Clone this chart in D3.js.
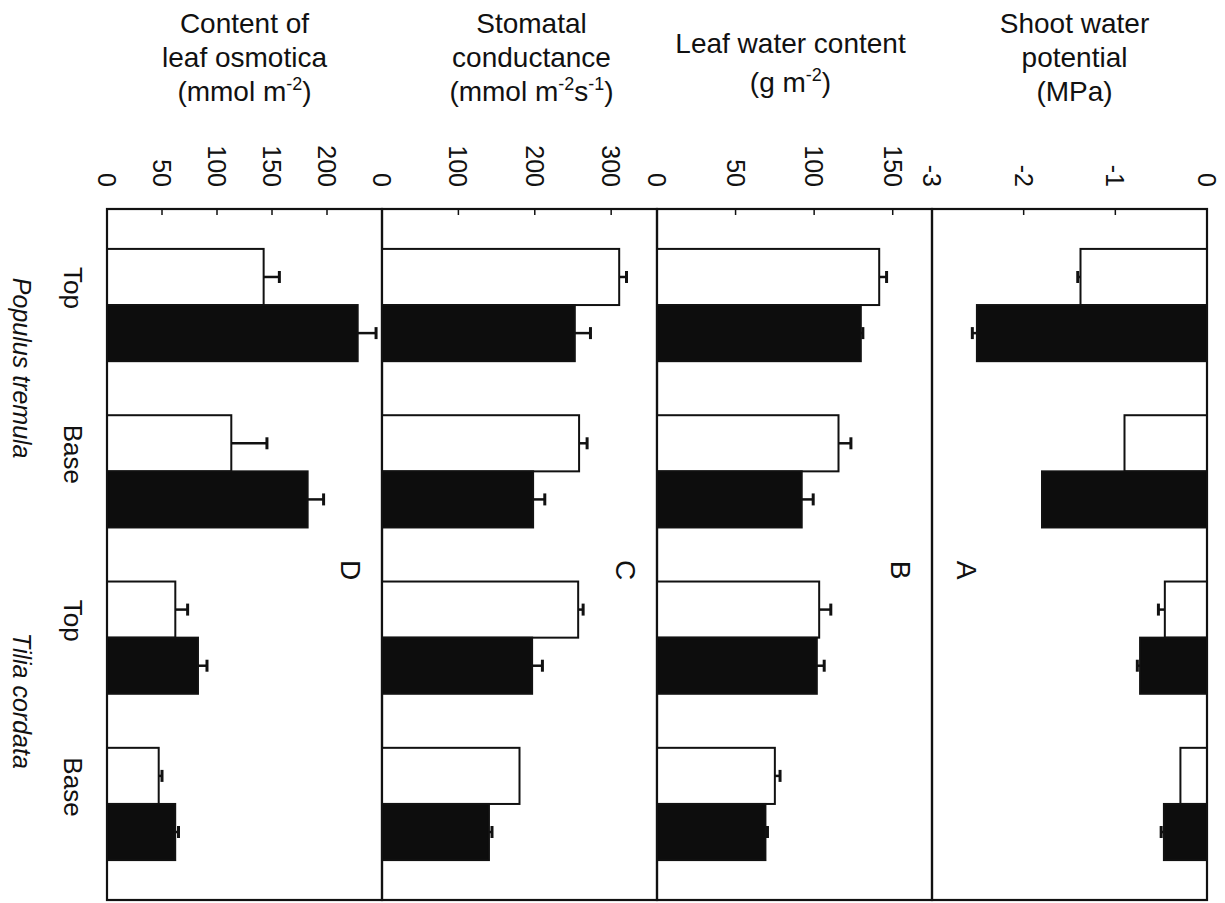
<!DOCTYPE html>
<html>
<head>
<meta charset="utf-8">
<script src="https://cdn.jsdelivr.net/npm/d3@7/dist/d3.min.js"></script>
<style>
  html, body { margin: 0; padding: 0; background: #fff; }
  svg { display: block; }
  text { font-family: "Liberation Sans", Arial, Helvetica, sans-serif; fill: #111; }
</style>
</head>
<body>
<svg id="chart" width="1225" height="903"></svg>
<script>
// Sampling positions along the canopy, two species
const categories = ["Top", "Base", "Top", "Base"];
const categoryKeys = ["pt-top", "pt-base", "tc-top", "tc-base"];
const species = ["Populus tremula", "Tilia cordata"];
const seriesNames = ["open", "filled"];

// A: shoot water potential (MPa)
const waterPotentialOpen = [-1.38, -0.90, -0.46, -0.29];
const waterPotentialOpenErr = [0.03, 0, 0.07, 0];
const waterPotentialFilled = [-2.51, -1.80, -0.73, -0.47];
const waterPotentialFilledErr = [0.05, 0, 0.03, 0.03];
const waterPotentialTicks = [-3, -2, -1, 0];

// B: leaf water content (g m-2)
const leafWaterOpen = [141.4, 115.5, 103.2, 75];
const leafWaterOpenErr = [4.7, 7.9, 7.4, 3.3];
const leafWaterFilled = [129.7, 92.1, 101.7, 69];
const leafWaterFilledErr = [1.3, 7.3, 4.7, 1.3];
const leafWaterTicks = [0, 50, 100, 150];

// C: stomatal conductance (mmol m-2 s-1)
const conductanceOpen = [310.5, 258, 256.8, 180];
const conductanceOpenErr = [9.6, 10.5, 6.5, 0];
const conductanceFilled = [252.4, 197.8, 196.5, 140];
const conductanceFilledErr = [20.5, 15.3, 13.5, 4];
const conductanceTicks = [0, 100, 200, 300];

// D: content of leaf osmotica (mmol m-2)
const osmoticaOpen = [142.4, 113, 62.1, 47];
const osmoticaOpenErr = [14.3, 32.4, 11.2, 3];
const osmoticaFilled = [227.9, 182.4, 82.7, 62];
const osmoticaFilledErr = [16.7, 14.5, 8.2, 3];
const osmoticaTicks = [0, 50, 100, 150, 200];

// Panels, left to right on the page; title parts in arrays are superscripts
const panels = [
  { letter: "D", domain: [0, 250], ticks: osmoticaTicks,
    open: osmoticaOpen, openErr: osmoticaOpenErr, filled: osmoticaFilled, filledErr: osmoticaFilledErr,
    title: [["Content of"], ["leaf osmotica"], ["(mmol m", ["-2"], ")"]] },
  { letter: "C", domain: [0, 360], ticks: conductanceTicks,
    open: conductanceOpen, openErr: conductanceOpenErr, filled: conductanceFilled, filledErr: conductanceFilledErr,
    title: [["Stomatal"], ["conductance"], ["(mmol m", ["-2"], "s", ["-1"], ")"]] },
  { letter: "B", domain: [0, 175], ticks: leafWaterTicks,
    open: leafWaterOpen, openErr: leafWaterOpenErr, filled: leafWaterFilled, filledErr: leafWaterFilledErr,
    title: [["Leaf water content"], ["(g m", ["-2"], ")"]] },
  { letter: "A", domain: [-3, 0], ticks: waterPotentialTicks,
    open: waterPotentialOpen, openErr: waterPotentialOpenErr, filled: waterPotentialFilled, filledErr: waterPotentialFilledErr,
    title: [["Shoot water"], ["potential"], ["(MPa)"]] }
];

const svg = d3.select("#chart");

const frameTop = 209, frameBottom = 900;
const panelLeft = 107, panelWidth = 275;

// Categories run down the page
const y = d3.scaleBand().domain(categoryKeys).range([frameTop, frameBottom])
  .paddingInner(0.325).paddingOuter(0.24);
const ySeries = d3.scaleBand().domain(seriesNames).range([0, y.bandwidth()]);

const titleOffsets = [0, 12, -4, 5];
const titleBaselines3 = [33, 67, 101];
const titleBaselines2 = [53, 92];
const supShift = 11;

panels.forEach((p, i) => {
  const x0 = panelLeft + i * panelWidth;
  const x = d3.scaleLinear().domain(p.domain).range([x0, x0 + panelWidth]);
  const g = svg.append("g");

  const rows = categoryKeys.map((k, j) => ({
    key: k,
    bars: [
      { s: "open", v: p.open[j], e: p.openErr[j] },
      { s: "filled", v: p.filled[j], e: p.filledErr[j] }
    ]
  }));

  const bar = g.selectAll("g.row").data(rows).join("g")
    .attr("class", "row")
    .attr("transform", d => `translate(0,${y(d.key)})`)
    .selectAll("g.bar").data(d => d.bars).join("g").attr("class", "bar");

  // error bars extend outward from the bar end
  bar.filter(d => d.e > 0).each(function (d) {
    const sel = d3.select(this);
    const yc = ySeries(d.s) + ySeries.bandwidth() / 2;
    const tip = d.v < 0 ? d.v - d.e : d.v + d.e;
    sel.append("line")
      .attr("x1", x(d.v)).attr("x2", x(tip)).attr("y1", yc).attr("y2", yc)
      .attr("stroke", "#111").attr("stroke-width", 2.5);
    sel.append("line")
      .attr("x1", x(tip)).attr("x2", x(tip)).attr("y1", yc - 6).attr("y2", yc + 6)
      .attr("stroke", "#111").attr("stroke-width", 3);
  });

  bar.append("rect")
    .attr("x", d => x(Math.min(0, d.v)))
    .attr("width", d => Math.abs(x(d.v) - x(0)))
    .attr("y", d => ySeries(d.s))
    .attr("height", ySeries.bandwidth())
    .attr("fill", d => d.s === "open" ? "#fff" : "#0d0d0d")
    .attr("stroke", "#111")
    .attr("stroke-width", 2);

  // panel frame
  g.append("rect")
    .attr("x", x0).attr("y", frameTop)
    .attr("width", panelWidth).attr("height", frameBottom - frameTop)
    .attr("fill", "none").attr("stroke", "#111").attr("stroke-width", 2.2);

  // inward ticks along the top edge
  g.selectAll("line.tick").data(p.ticks.filter(t => x(t) > x0 + 2 && x(t) < x0 + panelWidth - 2))
    .join("line").attr("class", "tick")
    .attr("x1", d => x(d)).attr("x2", d => x(d))
    .attr("y1", frameTop).attr("y2", frameTop + 6)
    .attr("stroke", "#111").attr("stroke-width", 1.5);

  // rotated tick labels above the frame
  g.selectAll("text.tl").data(p.ticks).join("text").attr("class", "tl")
    .attr("transform", d => `translate(${x(d)},187) rotate(90)`)
    .attr("text-anchor", "end")
    .attr("dominant-baseline", "central")
    .attr("font-size", 25)
    .text(d => String(d));

  // panel letter
  const lx = p.letter === "A" ? x0 + 34 : x0 + panelWidth - 32;
  g.append("text")
    .attr("transform", `translate(${lx},570) rotate(90)`)
    .attr("text-anchor", "middle").attr("dominant-baseline", "central")
    .attr("font-size", 28).text(p.letter);

  // quantity title, upright above the panel
  const cx = x0 + panelWidth / 2 + titleOffsets[i];
  const baselines = p.title.length === 3 ? titleBaselines3 : titleBaselines2;
  p.title.forEach((line, li) => {
    const t = g.append("text").attr("x", cx).attr("y", baselines[li])
      .attr("text-anchor", "middle").attr("font-size", 28);
    let raised = false;
    line.forEach(part => {
      if (Array.isArray(part)) {
        t.append("tspan").attr("dy", raised ? 0 : -supShift).attr("font-size", 18).text(part[0]);
        raised = true;
      } else {
        t.append("tspan").attr("dy", raised ? supShift : 0).text(part);
        raised = false;
      }
    });
  });
});

// category labels along the left side
svg.selectAll("text.cat").data(categoryKeys).join("text").attr("class", "cat")
  .attr("transform", d => `translate(73,${y(d) + y.bandwidth() / 2 - 17}) rotate(90)`)
  .attr("text-anchor", "middle").attr("dominant-baseline", "central")
  .attr("font-size", 26)
  .text((d, i) => categories[i]);

// species labels, one per pair of categories
svg.selectAll("text.sp").data(species).join("text").attr("class", "sp")
  .attr("transform", (d, i) => {
    const a = y(categoryKeys[2 * i]) + y.bandwidth() / 2;
    const b = y(categoryKeys[2 * i + 1]) + y.bandwidth() / 2;
    return `translate(22,${(a + b) / 2 - 20}) rotate(90)`;
  })
  .attr("text-anchor", "middle").attr("dominant-baseline", "central")
  .attr("font-size", 25).attr("font-style", "italic")
  .text(d => d);
</script>
</body>
</html>
